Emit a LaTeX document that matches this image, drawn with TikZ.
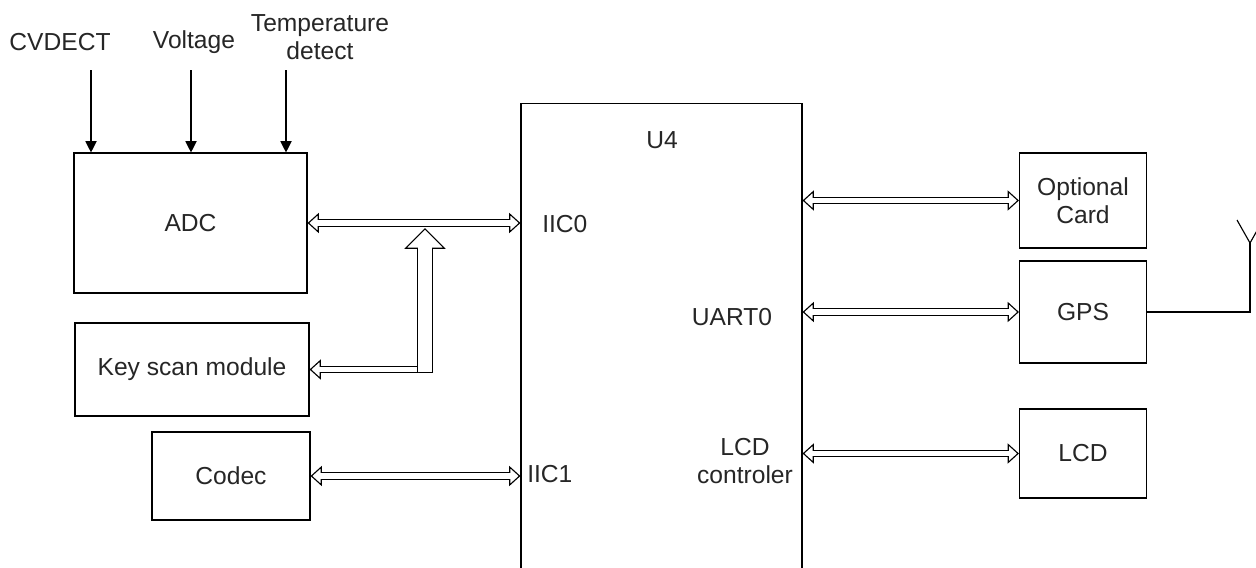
\documentclass[tikz,border=0pt]{standalone}
\usepackage{fontspec}
\setmainfont{Liberation Sans}
\usepackage{tikz}
\usetikzlibrary{shapes,arrows.meta,positioning}
\newdimen\pxu
\pxu=0.025cm

\begin{document}
\begin{tikzpicture}[x=0.025cm, y=-0.025cm,
    font=\fontsize{17.5}{20}\selectfont, text=black!85,
    blk/.style={draw, line width=0.8pt, rectangle, inner sep=0pt, align=center},
    lbl/.style={inner sep=0pt, align=center},
    sig/.style={line width=0.8pt, -{Triangle[length=0.28cm 0, width=0.28cm 0]}},
    tip/.style={Triangle[open, fill=white, length=0.28cm 0, width=0.5cm 0]},
    bus/.style={line width=0.8pt, double=white, double distance=0.14cm, {Triangle[open, fill=white, length=0.28cm 0, width=0.5cm 0]}-{Triangle[open, fill=white, length=0.28cm 0, width=0.5cm 0]},
        postaction={draw=white, line width=0.05pt, double=white, double distance=0.14cm, arrows=-, shorten <=0.24cm, shorten >=0.24cm}},
    lbus/.style={line width=0.8pt, double=white, double distance=0.14cm, -{Triangle[open, fill=white, length=0.28cm 0, width=0.5cm 0]},
        postaction={draw=white, line width=0.05pt, double=white, double distance=0.14cm, arrows=-, shorten >=0.24cm}},
    widebus/.style={line width=0.8pt, double=white, double distance=0.344cm, -{Triangle[open, fill=white, length=0.52cm 0, width=1.03cm 0]},
        postaction={draw=white, line width=0.05pt, double=white, double distance=0.344cm, arrows=-, shorten >=0.585cm}}]
    \useasboundingbox (0,0) rectangle (1256,567);

    % inputs
    \node[lbl] (cvdect) at (60,42) {CVDECT};
    \node[lbl] (volt) at (194,42) {Voltage};
    \node[lbl] (temp) at (320,37) {Temperature\\detect};
    \coordinate (s1) at (91,70);
    \coordinate (s2) at (191,70);
    \coordinate (s3) at (286,70);

    % left blocks
    \node[blk, minimum width=233\pxu, minimum height=140\pxu] (adc) at (190.5,223) {ADC};
    \node[blk, minimum width=234\pxu, minimum height=93\pxu] (key) at (192,369.5) {Key scan module};
    \node[blk, minimum width=158\pxu, minimum height=88\pxu] (codec) at (231,476) {Codec};

    % U4
    \node[blk, minimum width=281\pxu, minimum height=480\pxu, anchor=north] (u4) at (661.5,103) {};
    \node[lbl] (u4name) at (662,140) {U4};
    \node[lbl, anchor=west] (iic0) at (542,224) {IIC0};
    \node[lbl, anchor=west] (iic1) at (527,474) {IIC1};
    \node[lbl] (uart) at (732,317) {UART0};
    \node[lbl] (lcdc) at (745,461) {LCD\\controler};

    % right blocks
    \node[blk, minimum width=127\pxu, minimum height=95\pxu] (opt) at (1083,200.5) {Optional\\Card};
    \node[blk, minimum width=127\pxu, minimum height=102\pxu] (gps) at (1083,312) {GPS};
    \node[blk, minimum width=127\pxu, minimum height=89\pxu] (lcd) at (1083,453.5) {LCD};
    \coordinate (ant) at (1250,243);

    \draw[sig] (s1) -- (s1 |- adc.north);
    \draw[sig] (s2) -- (s2 |- adc.north);
    \draw[sig] (s3) -- (s3 |- adc.north);

    \draw[bus] (adc.east) -- (adc.east -| u4.west);
    \draw[bus] (codec.east) -- (codec.east -| u4.west);
    \draw[bus] (opt.west -| u4.east) -- (opt.west);
    \draw[bus] (gps.west -| u4.east) -- (gps.west);
    \draw[bus] (lcd.west -| u4.east) -- (lcd.west);

    % key scan joins the IIC0 bus
    \coordinate (kh) at (433,369.5);
    \coordinate (kj) at (425,372);
    \draw[lbus] (kh) -- (kh -| key.east);
    \draw[widebus, shorten >=5\pxu] (kj) -- (kj |- adc.east);

    % antenna
    \draw[line width=0.8pt] (gps.east) -| (ant);
    \draw[line width=0.8pt] ([shift={(-13,-23)}]ant) -- (ant) -- ([shift={(13,-23)}]ant);
\end{tikzpicture}
\end{document}
